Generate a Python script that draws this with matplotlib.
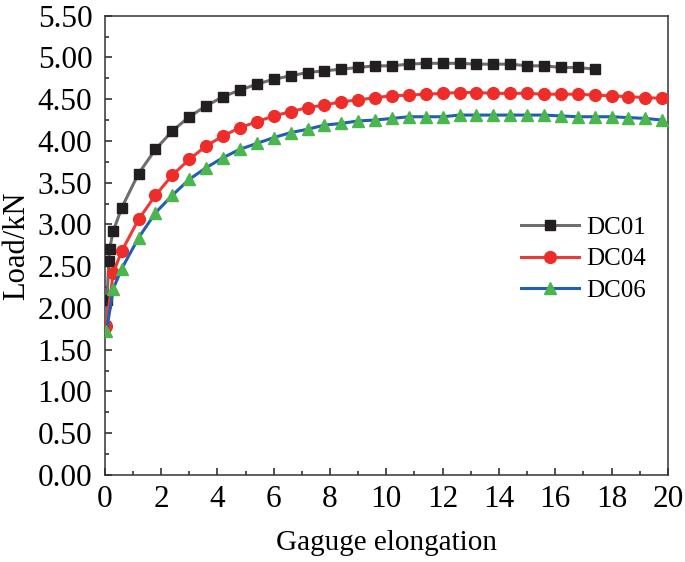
import matplotlib
matplotlib.use('Agg')
import matplotlib.pyplot as plt
from matplotlib.ticker import MultipleLocator, FormatStrFormatter

plt.rcParams['font.family'] = ['Liberation Serif', 'DejaVu Serif']

# DC01
x_dc01 = [0.02, 0.08, 0.14, 0.17, 0.3, 0.6, 1.2, 1.8, 2.4, 3.0, 3.6, 4.2, 4.8, 5.4, 6.0, 6.6,
          7.2, 7.8, 8.4, 9.0, 9.6, 10.2, 10.8, 11.4, 12.0, 12.6, 13.2, 13.8, 14.4, 15.0,
          15.6, 16.2, 16.8, 17.4]
y_dc01 = [1.78, 2.10, 2.56, 2.71, 2.92, 3.20, 3.61, 3.90, 4.12, 4.29, 4.42, 4.53, 4.61, 4.68,
          4.74, 4.78, 4.82, 4.84, 4.86, 4.88, 4.90, 4.90, 4.92, 4.93, 4.93, 4.93, 4.92, 4.92,
          4.92, 4.90, 4.90, 4.88, 4.88, 4.86]

# DC04
x_dc04 = [0.05, 0.3, 0.6, 1.2, 1.8, 2.4, 3.0, 3.6, 4.2, 4.8, 5.4, 6.0, 6.6, 7.2, 7.8, 8.4,
          9.0, 9.6, 10.2, 10.8, 11.4, 12.0, 12.6, 13.2, 13.8, 14.4, 15.0, 15.6, 16.2, 16.8,
          17.4, 18.0, 18.6, 19.2, 19.8]
y_dc04 = [1.78, 2.42, 2.68, 3.06, 3.35, 3.59, 3.78, 3.94, 4.06, 4.16, 4.23, 4.30, 4.35, 4.40,
          4.43, 4.47, 4.49, 4.52, 4.54, 4.55, 4.56, 4.57, 4.58, 4.58, 4.57, 4.57, 4.57, 4.56,
          4.56, 4.56, 4.55, 4.54, 4.53, 4.52, 4.51]

# DC06
x_dc06 = [0.06, 0.3, 0.6, 1.2, 1.8, 2.4, 3.0, 3.6, 4.2, 4.8, 5.4, 6.0, 6.6, 7.2, 7.8, 8.4,
          9.0, 9.6, 10.2, 10.8, 11.4, 12.0, 12.6, 13.2, 13.8, 14.4, 15.0, 15.6, 16.2, 16.8,
          17.4, 18.0, 18.6, 19.2, 19.8]
y_dc06 = [1.72, 2.23, 2.47, 2.84, 3.14, 3.35, 3.54, 3.68, 3.80, 3.90, 3.97, 4.04, 4.10, 4.14,
          4.19, 4.21, 4.24, 4.25, 4.27, 4.29, 4.29, 4.29, 4.31, 4.31, 4.31, 4.31, 4.31, 4.31,
          4.30, 4.29, 4.29, 4.29, 4.28, 4.27, 4.25]

fig = plt.figure(figsize=(6.85, 5.62), dpi=100)
ax = fig.add_axes([0.153, 0.155, 0.822, 0.817])

ax.plot(x_dc01, y_dc01, color='#6e6e6e', lw=2.2, marker='s', ms=7.5,
        mfc='#231f20', mec='#231f20', label='DC01', zorder=3)
ax.plot(x_dc04, y_dc04, color='#ee3a36', lw=2.2, marker='o', ms=8.5,
        mfc='#ee2d2a', mec='#ee2d2a', label='DC04', zorder=3)
ax.plot(x_dc06, y_dc06, color='#1f5fb4', lw=2.2, marker='^', ms=9,
        mfc='#4bb54e', mec='#4bb54e', label='DC06', zorder=3)

ax.set_xlim(0, 20)
ax.set_ylim(0, 5.5)
ax.xaxis.set_major_locator(MultipleLocator(2))
ax.xaxis.set_minor_locator(MultipleLocator(1))
ax.yaxis.set_major_locator(MultipleLocator(0.5))
ax.yaxis.set_minor_locator(MultipleLocator(0.25))
ax.yaxis.set_major_formatter(FormatStrFormatter('%.2f'))
ax.tick_params(which='both', direction='in', top=False, right=False, labelsize=22.5,
               width=1.1, color='#222222')
ax.tick_params(which='major', length=5)
ax.tick_params(which='minor', length=3)
ax.tick_params(axis='y', which='major', pad=9)
ax.tick_params(axis='x', which='major', pad=7)
for s in ax.spines.values():
    s.set_linewidth(1.1)
    s.set_color('#333333')

ax.set_xlabel('Gaguge elongation', fontsize=21, labelpad=12)
ax.set_ylabel('Load/kN', fontsize=22, labelpad=5)

ax.legend(loc='center left', bbox_to_anchor=(0.70, 0.47), frameon=False, fontsize=18,
          handlelength=2.3, handletextpad=0.3, labelspacing=0.35)

fig.savefig('out.png', dpi=100)
